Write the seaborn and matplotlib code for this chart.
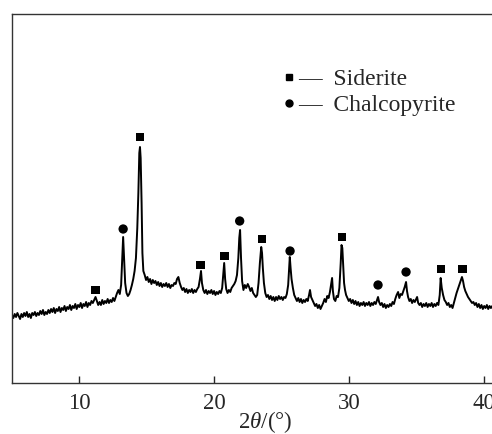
import matplotlib
matplotlib.use("Agg")
import matplotlib.pyplot as plt
import pandas as pd
import seaborn as sns
from matplotlib.lines import Line2D

sns.set_theme(style="white")
plt.rcParams["font.family"] = ["Liberation Serif", "DejaVu Serif"]
plt.rcParams["mathtext.fontset"] = "custom"
plt.rcParams["mathtext.it"] = "Liberation Serif:italic"
plt.rcParams["mathtext.rm"] = "Liberation Serif"

# XRD trace, (2theta in degrees, intensity a.u.), by region
seg_5_11 = [
    (5.0, 68), (5.1, 65), (5.2, 69), (5.3, 66), (5.4, 70), (5.5, 67), (5.6, 64),
    (5.7, 69), (5.8, 66), (5.9, 70), (6.0, 67), (6.1, 71), (6.2, 66), (6.3, 69),
    (6.4, 65), (6.5, 70), (6.6, 68), (6.7, 71), (6.8, 67), (6.9, 70), (7.0, 68),
    (7.1, 72), (7.2, 69), (7.3, 73), (7.4, 68), (7.5, 71), (7.6, 69), (7.7, 73),
    (7.8, 70), (7.9, 74), (8.0, 71), (8.1, 75), (8.2, 70), (8.3, 74), (8.4, 72),
    (8.5, 76), (8.6, 71), (8.7, 75), (8.8, 73), (8.9, 77), (9.0, 72), (9.1, 76),
    (9.2, 74), (9.3, 78), (9.4, 73), (9.5, 77), (9.6, 75), (9.7, 79), (9.8, 74),
    (9.9, 78), (10.0, 76), (10.1, 80), (10.2, 75), (10.3, 79), (10.4, 77),
    (10.5, 81), (10.6, 76), (10.7, 80), (10.8, 78), (10.9, 82),
]
seg_11_15 = [
    (11.0, 80), (11.1, 83), (11.2, 86), (11.3, 82), (11.4, 78), (11.5, 81),
    (11.6, 78), (11.7, 83), (11.8, 79), (11.9, 82), (12.0, 80), (12.1, 84),
    (12.2, 80), (12.3, 83), (12.4, 81), (12.5, 85), (12.6, 82), (12.7, 86),
    (12.8, 90), (12.9, 93), (13.0, 89), (13.1, 98), (13.18, 125), (13.25, 146),
    (13.32, 125), (13.4, 100), (13.5, 90), (13.6, 87), (13.7, 89), (13.8, 93),
    (13.9, 98), (14.0, 104), (14.1, 112), (14.2, 125), (14.3, 155), (14.38, 190),
    (14.45, 230), (14.5, 236), (14.55, 225), (14.62, 180), (14.68, 130),
    (14.75, 112), (14.85, 108), (14.95, 103),
]
seg_15_21 = [
    (15.05, 106), (15.15, 101), (15.25, 104), (15.35, 99), (15.45, 103),
    (15.55, 100), (15.65, 102), (15.75, 98), (15.85, 101), (15.95, 97),
    (16.05, 100), (16.15, 96), (16.25, 99), (16.35, 97), (16.45, 100),
    (16.55, 96), (16.65, 99), (16.75, 95), (16.85, 98), (16.95, 97),
    (17.05, 100), (17.15, 99), (17.25, 104), (17.35, 106), (17.45, 100),
    (17.55, 96), (17.65, 93), (17.75, 95), (17.85, 91), (17.95, 94),
    (18.05, 90), (18.15, 93), (18.25, 91), (18.35, 94), (18.45, 90),
    (18.55, 93), (18.65, 91), (18.75, 94), (18.85, 96), (18.95, 104),
    (19.03, 112), (19.1, 100), (19.2, 93), (19.3, 90), (19.4, 93), (19.5, 89),
    (19.6, 92), (19.7, 90), (19.8, 93), (19.9, 89), (20.0, 92), (20.1, 88),
    (20.2, 91), (20.3, 89), (20.4, 92), (20.5, 90), (20.6, 95), (20.68, 108),
    (20.75, 120), (20.82, 104), (20.9, 94),
]
seg_21_27 = [
    (21.0, 90), (21.1, 93), (21.2, 91), (21.3, 95), (21.4, 97), (21.5, 99),
    (21.6, 102), (21.7, 108), (21.8, 125), (21.87, 145), (21.93, 153),
    (22.0, 125), (22.08, 102), (22.18, 93), (22.28, 98), (22.38, 95),
    (22.5, 99), (22.6, 96), (22.7, 92), (22.8, 95), (22.9, 90), (23.0, 88),
    (23.1, 86), (23.2, 88), (23.3, 100), (23.4, 120), (23.5, 136), (23.56, 130),
    (23.62, 115), (23.7, 100), (23.8, 90), (23.9, 86), (24.0, 88), (24.1, 84),
    (24.2, 87), (24.3, 83), (24.4, 86), (24.5, 82), (24.6, 86), (24.7, 83),
    (24.8, 87), (24.9, 84), (25.0, 86), (25.1, 83), (25.2, 86), (25.3, 85),
    (25.4, 89), (25.5, 98), (25.57, 115), (25.62, 126), (25.68, 115),
    (25.75, 104), (25.85, 95), (25.95, 88), (26.05, 85), (26.15, 82),
    (26.25, 85), (26.35, 81), (26.45, 84), (26.55, 80), (26.65, 83),
    (26.75, 81), (26.85, 84), (26.95, 82),
]
seg_27_33 = [
    (27.05, 88), (27.12, 93), (27.2, 86), (27.3, 83), (27.4, 80), (27.5, 77),
    (27.6, 79), (27.7, 75), (27.8, 78), (27.9, 74), (28.0, 77), (28.1, 80),
    (28.2, 84), (28.3, 81), (28.4, 87), (28.5, 85), (28.6, 91), (28.7, 100),
    (28.76, 105), (28.82, 92), (28.9, 84), (29.0, 82), (29.1, 87), (29.2, 86),
    (29.3, 95), (29.4, 120), (29.46, 138), (29.52, 135), (29.58, 118),
    (29.65, 100), (29.72, 93), (29.8, 88), (29.9, 85), (30.0, 82), (30.1, 84),
    (30.2, 80), (30.3, 83), (30.4, 79), (30.5, 82), (30.6, 78), (30.7, 81),
    (30.8, 77), (30.9, 80), (31.0, 78), (31.1, 81), (31.2, 77), (31.3, 80),
    (31.4, 78), (31.5, 81), (31.6, 77), (31.7, 80), (31.8, 78), (31.9, 81),
    (32.0, 79), (32.1, 83), (32.17, 86), (32.25, 81), (32.35, 78), (32.45, 80),
    (32.55, 76), (32.65, 79), (32.75, 75), (32.85, 78), (32.95, 76),
]
seg_33_41 = [
    (33.05, 79), (33.15, 77), (33.25, 81), (33.35, 79), (33.45, 84),
    (33.55, 88), (33.66, 91), (33.75, 85), (33.85, 89), (33.95, 88),
    (34.05, 92), (34.15, 96), (34.25, 101), (34.32, 92), (34.4, 86),
    (34.5, 82), (34.6, 84), (34.7, 80), (34.8, 83), (34.9, 81), (35.0, 84),
    (35.07, 86), (35.15, 80), (35.25, 78), (35.35, 80), (35.45, 76),
    (35.55, 79), (35.65, 77), (35.75, 80), (35.85, 76), (35.95, 79),
    (36.05, 77), (36.15, 80), (36.25, 76), (36.35, 79), (36.45, 77),
    (36.55, 80), (36.65, 78), (36.75, 88), (36.82, 105), (36.9, 95),
    (37.0, 88), (37.1, 83), (37.2, 81), (37.3, 78), (37.4, 80), (37.5, 76),
    (37.6, 78), (37.7, 75), (37.8, 80), (37.9, 85), (38.0, 90), (38.1, 94),
    (38.2, 98), (38.3, 102), (38.4, 106), (38.48, 102), (38.56, 96),
    (38.65, 92), (38.75, 89), (38.85, 86), (38.95, 84), (39.05, 82),
    (39.15, 80), (39.25, 81), (39.35, 78), (39.45, 80), (39.55, 76),
    (39.65, 79), (39.75, 75), (39.85, 78), (39.95, 74), (40.05, 77),
    (40.15, 75), (40.25, 78), (40.35, 74), (40.45, 77), (40.55, 75),
    (40.65, 77), (40.8, 75),
]

# phase markers: peak positions and marker heights
siderite_pos = [11.2, 14.5, 19.0, 20.75, 23.55, 29.5, 36.85, 38.45]
siderite_h = [93, 246, 118, 127, 144, 146, 114, 114]
chalco_pos = [13.25, 21.9, 25.64, 32.17, 34.25]
chalco_h = [154, 162, 132, 98, 111]

segments = [seg_5_11, seg_11_15, seg_15_21, seg_21_27, seg_27_33, seg_33_41]
trace = pd.DataFrame([p for seg in segments for p in seg],
                     columns=["two_theta", "intensity"])
sid = pd.DataFrame({"pos": siderite_pos, "h": siderite_h})
chal = pd.DataFrame({"pos": chalco_pos, "h": chalco_h})

fig = plt.figure(figsize=(4.92, 4.34), dpi=100)
ax = fig.add_axes([12 / 492, 51 / 434, 480 / 492, 369 / 434])

sns.lineplot(data=trace, x="two_theta", y="intensity", sort=False,
             color="black", linewidth=1.4, ax=ax)
sns.scatterplot(data=sid, x="pos", y="h", marker="s", s=40, color="black",
                edgecolor="none", ax=ax)
sns.scatterplot(data=chal, x="pos", y="h", marker="o", s=45, color="black",
                edgecolor="none", ax=ax)

ax.set_xlim(5, 40.63)
ax.set_ylim(0, 369)
ax.set_xticks([10, 20, 30, 40])
ax.set_yticks([])
ax.tick_params(axis="x", direction="in", length=5, width=1, pad=7,
               labelsize=16.5, bottom=True)
ax.spines["right"].set_visible(False)
for side in ["left", "top", "bottom"]:
    ax.spines[side].set_color("#333333")
    ax.spines[side].set_linewidth(1.0)

ax.set_ylabel("")
ax.set_xlabel(r"2$\mathit{\theta}$/(°)", fontsize=16.5)
ax.xaxis.set_label_coords(0.527, -0.071)

handles = [
    Line2D([], [], marker="s", linestyle="none", color="black", markersize=5),
    Line2D([], [], marker="o", linestyle="none", color="black", markersize=5),
]
ax.legend(handles, ["—  Siderite", "—  Chalcopyrite"], loc="upper left",
          bbox_to_anchor=(0.537, 0.885), frameon=False, fontsize=17,
          handlelength=0.6, handletextpad=0.1, labelspacing=0.2,
          borderpad=0.0)

fig.savefig("out.png", dpi=100)
